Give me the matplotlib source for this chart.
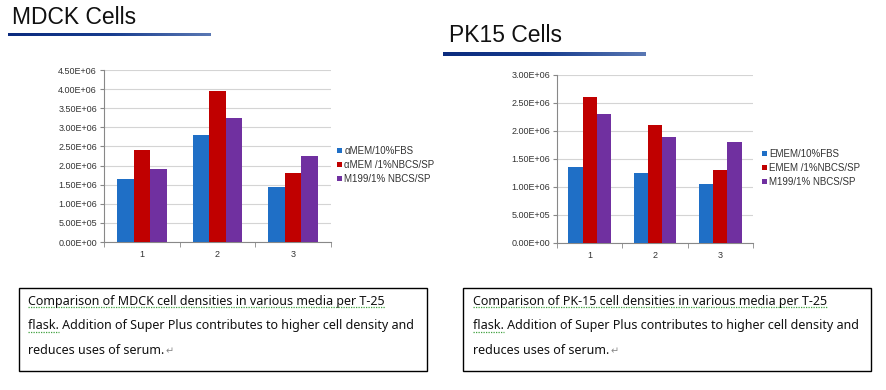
import numpy as np
import matplotlib
matplotlib.use("Agg")
import matplotlib.pyplot as plt
from matplotlib.patches import Rectangle
from matplotlib.lines import Line2D
from matplotlib.ticker import FuncFormatter, FixedLocator

plt.rcParams['font.family'] = ['Liberation Sans', 'DejaVu Sans']

# data
groups = ['1', '2', '3']

mdck_labels = ['αMEM/10%FBS', 'αMEM /1%NBCS/SP', 'M199/1% NBCS/SP']
mdck_fbs = [1.65e6, 2.80e6, 1.45e6]
mdck_nbcs = [2.40e6, 3.95e6, 1.80e6]
mdck_m199 = [1.90e6, 3.25e6, 2.25e6]
mdck_yticks = [0, 5e5, 1e6, 1.5e6, 2e6, 2.5e6, 3e6, 3.5e6, 4e6, 4.5e6]

pk_labels = ['EMEM/10%FBS', 'EMEM /1%NBCS/SP', 'M199/1% NBCS/SP']
pk_fbs = [1.35e6, 1.25e6, 1.05e6]
pk_nbcs = [2.60e6, 2.10e6, 1.30e6]
pk_m199 = [2.30e6, 1.90e6, 1.80e6]
pk_yticks = [0, 5e5, 1e6, 1.5e6, 2e6, 2.5e6, 3e6]

colors = ['#1F6FC6', '#C00000', '#7030A0']

captions = [
    ['Comparison of MDCK cell densities in various media per T-25',
     'flask.', ' Addition of Super Plus contributes to higher cell density and',
     'reduces uses of serum.'],
    ['Comparison of PK-15 cell densities in various media per T-25',
     'flask.', ' Addition of Super Plus contributes to higher cell density and',
     'reduces uses of serum.'],
]

W, H = 887, 390
fig = plt.figure(figsize=(W / 100, H / 100), dpi=100)


def px(x0, y0, x1, y1):
    # pixel box (top-left origin) -> figure fraction rect
    return [x0 / W, 1 - y1 / H, (x1 - x0) / W, (y1 - y0) / H]


def bar_chart(rect, series, labels, yticks, legend_xy):
    ax = fig.add_axes(rect)
    x = np.arange(1, len(groups) + 1)
    bw = 0.218
    for i, (vals, lab) in enumerate(zip(series, labels)):
        ax.bar(x + (i - 1) * bw, vals, bw, color=colors[i], label=lab, zorder=3)
    ax.set_xlim(0.5, len(groups) + 0.5)
    ax.set_ylim(yticks[0], yticks[-1])
    ax.set_yticks(yticks)
    ax.yaxis.set_major_formatter(FuncFormatter(lambda v, p: f"{v:.2E}"))
    ax.set_xticks(x)
    ax.set_xticklabels(groups)
    ax.xaxis.set_minor_locator(FixedLocator(np.arange(0.5, len(groups) + 1, 1.0)))
    ax.tick_params(axis='x', which='major', length=0, pad=6, labelsize=6.5, colors='#333333')
    ax.tick_params(axis='x', which='minor', length=3.5, direction='out', color='#888888')
    ax.tick_params(axis='y', length=3, color='#888888', labelsize=6.5, pad=2, labelcolor='#333333')
    ax.grid(axis='y', color='#D4D4D4', linewidth=0.8, zorder=0)
    for s in ['top', 'right']:
        ax.spines[s].set_visible(False)
    for s in ['left', 'bottom']:
        ax.spines[s].set_color('#888888')
        ax.spines[s].set_linewidth(0.8)
    leg = ax.legend(loc='center left', bbox_to_anchor=(legend_xy[0] / W, 1 - legend_xy[1] / H),
                    bbox_transform=fig.transFigure, frameon=False, fontsize=7,
                    handlelength=0.5, handleheight=0.5, handletextpad=0.25,
                    labelspacing=0.42, borderpad=0, borderaxespad=0)
    for t in leg.get_texts():
        t.set_color('#333333')
    return ax


def title(x, y, text, bar_x0, bar_x1, bar_y):
    fig.text(x / W, 1 - y / H, text, fontsize=16.5, va='center', ha='left', color='#111111')
    bax = fig.add_axes(px(bar_x0, bar_y - 2, bar_x1, bar_y + 2))
    grad = np.linspace(0, 1, 256).reshape(1, -1)
    cmap = matplotlib.colors.LinearSegmentedColormap.from_list(
        'u', ['#0B2B7E', '#173C8E', '#5A78B4'])
    bax.imshow(grad, aspect='auto', cmap=cmap)
    bax.axis('off')


title(12, 17, 'MDCK Cells', 8, 211, 34.5)
title(449, 36, 'PK15 Cells', 443, 646, 54)

bar_chart(px(104, 70, 331, 242), [mdck_fbs, mdck_nbcs, mdck_m199], mdck_labels,
          mdck_yticks, (337, 165))
bar_chart(px(557, 75, 753, 243), [pk_fbs, pk_nbcs, pk_m199], pk_labels,
          pk_yticks, (762, 168))

# caption boxes
boxes = [(19, 288, 427, 371), (463, 288, 871, 371)]
text_x = [28, 473]
squiggles = []
for (x0, y0, x1, y1), tx, cap in zip(boxes, text_x, captions):
    fig.patches.append(Rectangle((x0 / W, 1 - y1 / H), (x1 - x0) / W, (y1 - y0) / H,
                                 transform=fig.transFigure, fill=False,
                                 edgecolor='black', linewidth=1.0))
    kw = dict(fontsize=9.0, color='#111111', family=['Noto Sans', 'DejaVu Sans'])
    t1 = fig.text(tx / W, 1 - 301 / H, cap[0], va='center', ha='left', **kw)
    t2 = fig.text(tx / W, 1 - 326 / H, cap[1], va='center', ha='left', **kw)
    fig.text(tx / W, 1 - 326 / H, cap[1] + cap[2], va='center', ha='left', **kw)
    t2.set_alpha(0)
    t3 = fig.text(tx / W, 1 - 351 / H, cap[3], va='center', ha='left', **kw)
    t4 = fig.text(0, 0, '↵', fontsize=7, color='#888888', va='center', ha='left',
                  family=['DejaVu Sans'])
    squiggles.append((t1, t2, t3, t4))

fig.canvas.draw()
r = fig.canvas.get_renderer()
inv = fig.transFigure.inverted()
for t1, t2, t3, t4 in squiggles:
    for t in (t1, t2):
        bb = t.get_window_extent(r)
        (a, b), (c, d) = inv.transform([[bb.x0, bb.y0], [bb.x1, bb.y1]])
        fig.lines.append(Line2D([a, c], [b + 0.001, b + 0.001], transform=fig.transFigure,
                                color='#3FA03F', linewidth=0.9, linestyle=(0, (1, 1))))
    bb = t3.get_window_extent(r)
    (a, b), (c, d) = inv.transform([[bb.x0, bb.y0], [bb.x1, bb.y1]])
    t4.set_position((c + 0.001, (b + d) / 2))

fig.savefig('out.png', dpi=100)
